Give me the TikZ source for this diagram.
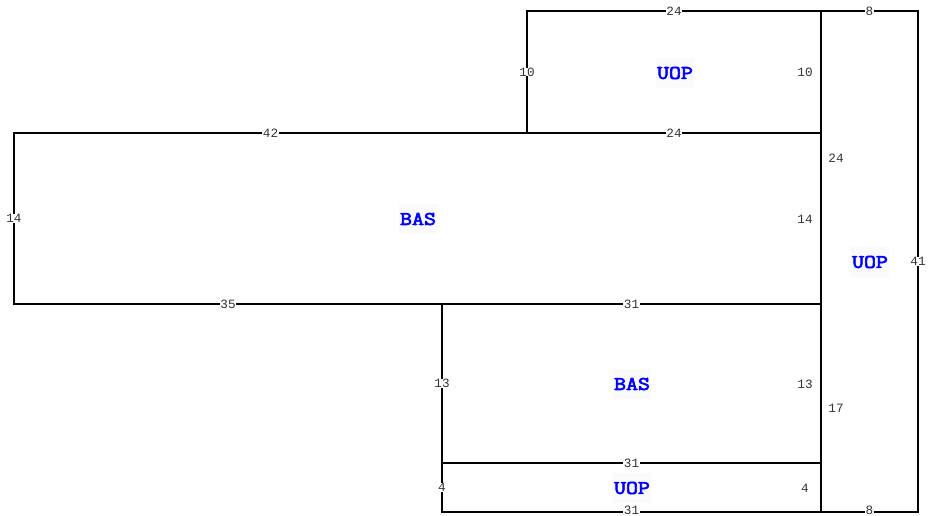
\documentclass[tikz,border=0pt]{standalone}
\usepackage{fontspec}
\newfontfamily\sizefont{Liberation Mono}
\newfontfamily\roomfont[FakeBold=3.5,FakeStretch=1.2]{Latin Modern Mono}
\usepackage{tikz}
\usetikzlibrary{calc}

\begin{document}
\begin{tikzpicture}[
x=0.75pt,
y=-0.75pt,
wall/.style={
  draw=black,
  line width=1.6pt,
  line cap=rect
  },
inner wall/.style={
  wall,
  line width=2.2pt
  },
size/.style={
  fill=white,
  inner xsep=0.6pt,
  inner ysep=0pt,
  font=\sizefont\fontsize{9.5}{10}\selectfont,
  text=black!80
  },
room/.style={
  fill=black!2,
  inner sep=0pt,
  minimum width=29pt,
  minimum height=23pt,
  font=\roomfont\fontsize{14.5}{15}\selectfont,
  text=blue
  }
]
\useasboundingbox (0,0) rectangle (931,516);

\coordinate (a1) at (527,11);
\coordinate (a2) at (821,11);
\coordinate (a3) at (918,11);
\coordinate (b1) at (14,133);
\coordinate (b2) at (527,133);
\coordinate (b3) at (821,133);
\coordinate (c1) at (14,304);
\coordinate (c2) at (442,304);
\coordinate (c3) at (821,304);
\coordinate (d1) at (442,463);
\coordinate (d2) at (821,463);
\coordinate (e1) at (442,512);
\coordinate (e2) at (821,512);
\coordinate (e3) at (918,512);

% outer walls with their size in the middle
\foreach \from/\to/\len in {a1/a2/24,a2/a3/8,a3/e3/41,d1/e1/4,c2/d1/13,c1/c2/35,b1/c1/14,b1/b2/42,a1/b2/10}
  \draw[wall] (\from) -- (\to) node[midway,size] (s\from\to) {\len};

% bottom row sits a little higher, else its digits leave the page
\foreach \from/\to/\len in {e1/e2/31,e2/e3/8}
  \draw[wall] (\from) -- (\to) node[midway,size,yshift=1pt] (s\from\to) {\len};

% inner walls
\foreach \from/\to/\len in {b2/b3/24,c2/c3/31,d1/d2/31}
  \draw[inner wall] (\from) -- (\to) node[midway,size] (s\from\to) {\len};
\draw[inner wall] (a2) -- (e2);

\node[size] (n10) at (805,72) {10};
\node[size] (n24) at (836,158) {24};
\node[size] (n14) at (805,219) {14};
\node[size] (n13) at (805,384) {13};
\node[size] (n17) at (836,408) {17};
\node[size] (n4) at (805,488) {4};

\node[room] (uop1) at (675,73) {UOP};
\node[room] (bas1) at (418,219) {BAS};
\node[room] (uop2) at (870,262) {UOP};
\node[room] (bas2) at (632,384) {BAS};
\node[room] (uop3) at (632,488) {UOP};

\end{tikzpicture}
\end{document}
